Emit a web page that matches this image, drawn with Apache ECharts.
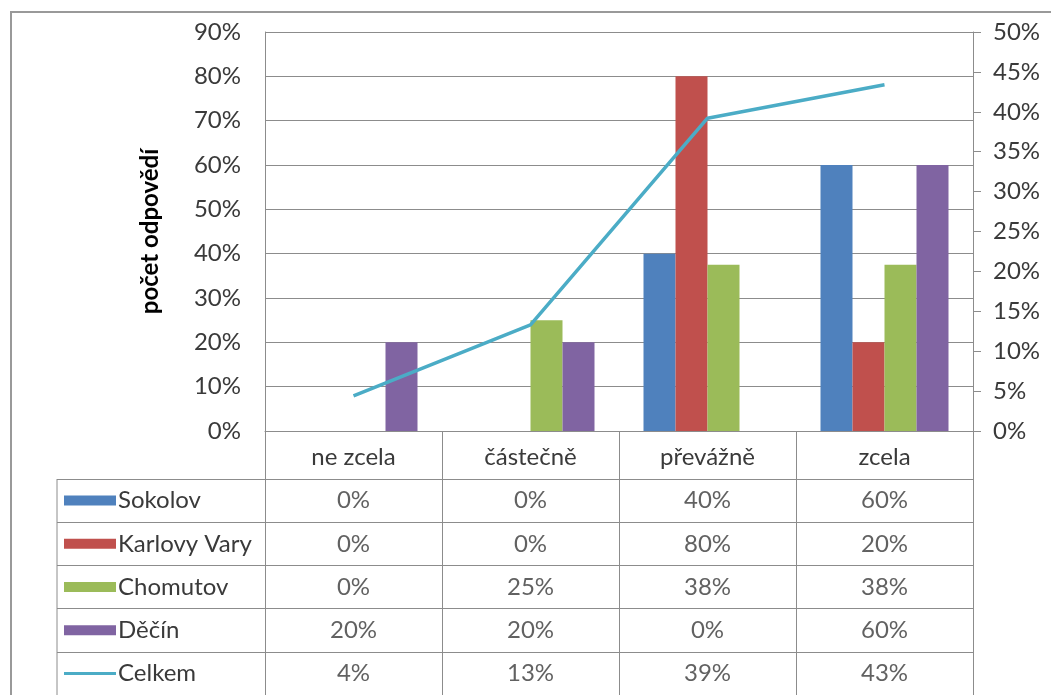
<!DOCTYPE html>
<html>
<head>
<meta charset="utf-8">
<script src="https://cdn.jsdelivr.net/npm/echarts@6/dist/echarts.min.js"></script>
<style>
html,body{margin:0;padding:0;background:#fff;}
#c{width:1051px;height:695px;}
</style>
</head>
<body>
<div id="c"></div>
<script>
const categories = ['ne zcela', 'částečně', 'převážně', 'zcela'];
const sokolov = [0, 0, 40, 60];
const karlovyVary = [0, 0, 80, 20];
const chomutov = [0, 25, 37.5, 37.5];
const decin = [20, 20, 0, 60];
const celkem = [4.4, 13.3, 39.2, 43.4];
const seriesNames = ['Sokolov', 'Karlovy Vary', 'Chomutov', 'Děčín', 'Celkem'];
const colors = ['#4F81BD', '#C0504D', '#9BBB59', '#8064A2', '#4BACC6'];

const allSeries = [sokolov, karlovyVary, chomutov, decin, celkem];
const txt = '#3a3a3a';
const gridCol = '#8c8c8c';
const font = 'Lato';
const fs = 24;

// table cells built from the series arrays
const cells = [];
allSeries.forEach((arr, r) => arr.forEach((v, c) => cells.push([c, r, Math.round(v) + '%'])));

const rich = { t: { fontSize: fs, fontFamily: font, color: txt, padding: [0, 0, 0, 2] } };
colors.forEach((col, i) => {
  rich['k' + i] = { width: 52, height: i === 4 ? 3 : 10, backgroundColor: col };
});

const barSeries = [sokolov, karlovyVary, chomutov, decin].map((d, i) => ({
  name: seriesNames[i], type: 'bar', data: d, barWidth: 32, barGap: '0%',
  itemStyle: { color: colors[i] }, xAxisIndex: 0, yAxisIndex: 0
}));

const chart = echarts.init(document.getElementById('c'));
chart.setOption({
  backgroundColor: '#fff',
  animation: false,
  textStyle: { fontFamily: font },
  graphic: [
    { type: 'rect', shape: { x: 11, y: 12, width: 1100, height: 800 }, style: { fill: 'none', stroke: '#999', lineWidth: 2 } },
    { type: 'line', shape: { x1: 57, y1: 479, x2: 57, y2: 702 }, style: { stroke: gridCol, lineWidth: 1 } }
  ],
  grid: [
    { left: 265, right: 78, top: 32, height: 399 },
    { left: 265, right: 78, top: 479, height: 223 }
  ],
  xAxis: [
    {
      type: 'category', data: categories, gridIndex: 0,
      axisLine: { lineStyle: { color: gridCol } },
      axisTick: { show: true, length: 48, lineStyle: { color: gridCol } },
      axisLabel: { color: txt, fontSize: fs, fontFamily: font, margin: 14 }
    },
    {
      type: 'category', data: categories, gridIndex: 1,
      axisLine: { show: false }, axisTick: { show: false }, axisLabel: { show: false },
      splitLine: { show: true, lineStyle: { color: gridCol } }
    }
  ],
  yAxis: [
    {
      type: 'value', min: 0, max: 90, interval: 10, gridIndex: 0,
      name: 'počet odpovědí', nameLocation: 'middle', nameGap: 103,
      nameTextStyle: { fontWeight: 'bold', fontSize: 24, fontFamily: font, color: '#000' },
      axisLine: { show: true, lineStyle: { color: gridCol } },
      axisTick: { show: false },
      axisLabel: { formatter: '{value}%', color: txt, fontSize: fs, fontFamily: font, margin: 24 },
      splitLine: { show: true, lineStyle: { color: gridCol } }
    },
    {
      type: 'value', min: 0, max: 50, interval: 5, gridIndex: 0, position: 'right',
      axisLine: { show: true, lineStyle: { color: gridCol } },
      axisTick: { show: true, length: 8, lineStyle: { color: gridCol } },
      axisLabel: { formatter: '{value}%', color: txt, fontSize: fs, fontFamily: font, margin: 20 },
      splitLine: { show: false }
    },
    {
      type: 'category', data: seriesNames, gridIndex: 1, inverse: true,
      axisLine: { show: true, lineStyle: { color: gridCol } },
      axisTick: { show: true, length: 208, lineStyle: { color: gridCol } },
      splitLine: { show: true, lineStyle: { color: gridCol } },
      axisLabel: {
        align: 'left', margin: 201,
        formatter: (v, i) => '{k' + i + '|}{t|' + v + '}',
        rich: rich
      }
    }
  ],
  series: barSeries.concat([
    {
      name: 'Celkem', type: 'line', data: celkem, xAxisIndex: 0, yAxisIndex: 1,
      showSymbol: false, symbol: 'none',
      lineStyle: { color: colors[4], width: 3.5 }
    },
    {
      type: 'scatter', xAxisIndex: 1, yAxisIndex: 2, data: cells,
      symbolSize: 1, itemStyle: { color: 'rgba(0,0,0,0)' },
      label: {
        show: true, position: 'inside', formatter: p => p.value[2],
        color: txt, fontSize: fs, fontFamily: font
      }
    }
  ])
});
</script>
</body>
</html>
